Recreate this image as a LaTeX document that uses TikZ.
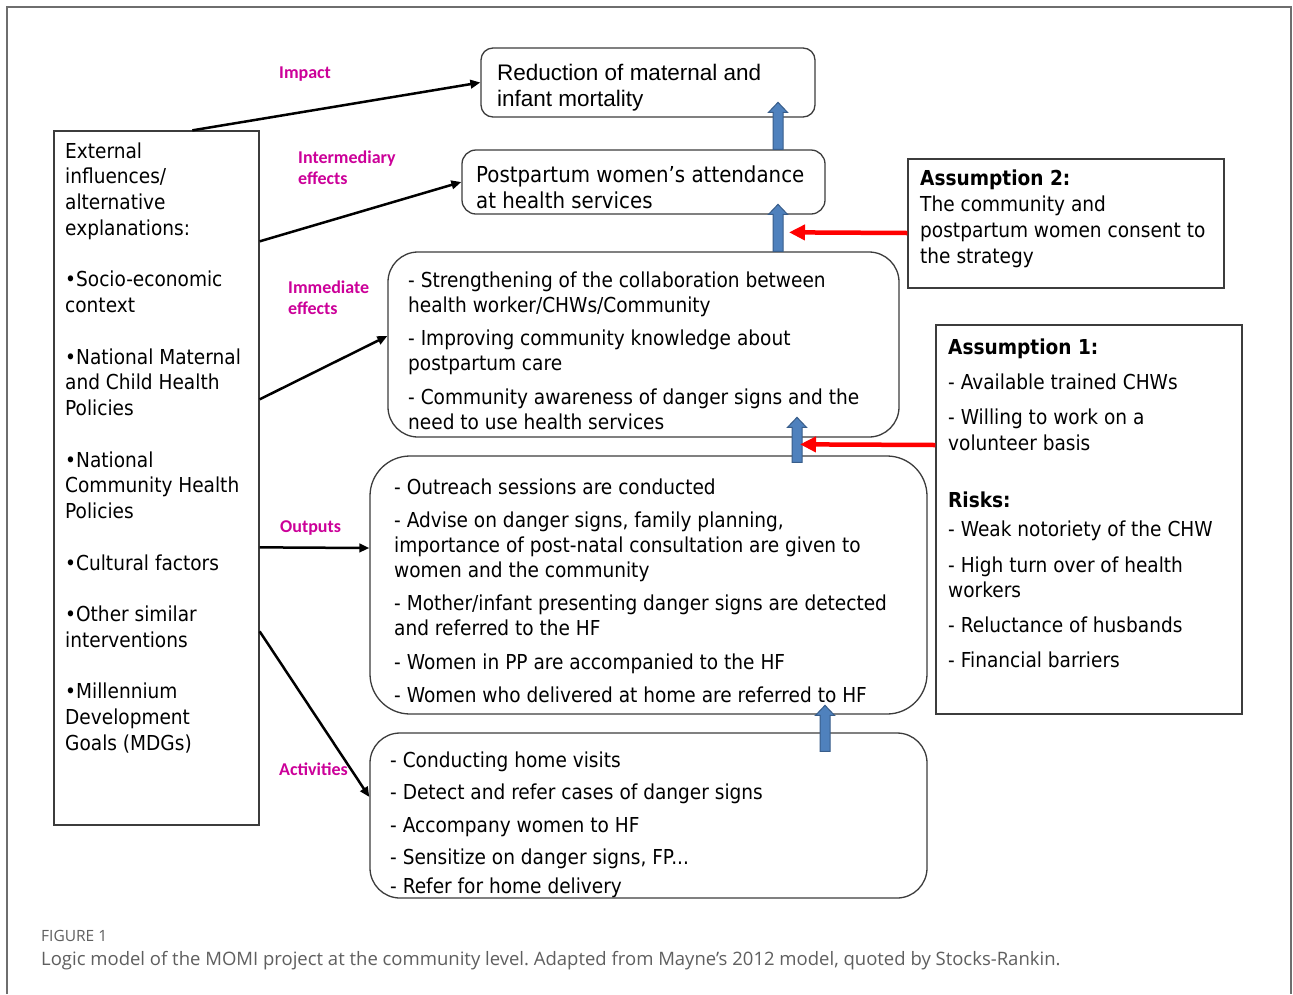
\documentclass[tikz,border=0pt]{standalone}
\usepackage{fontspec}
\usetikzlibrary{arrows.meta,calc}
\newfontfamily\tahfont{DejaVu Sans}[FakeStretch=0.9]
\newfontfamily\arifont{Liberation Sans}
\newfontfamily\calfont{Carlito}
\newfontfamily\capfont{Open Sans}
\definecolor{lblmag}{RGB}{204,0,153}
\definecolor{bluefill}{RGB}{79,129,189}
\definecolor{blueline}{RGB}{56,93,138}
\definecolor{boxline}{RGB}{60,60,60}
\definecolor{framegray}{RGB}{110,110,110}
\definecolor{capgray}{RGB}{95,95,95}
\definecolor{redarr}{RGB}{255,0,0}
\frenchspacing
\newcommand\barrow[4]{\filldraw[blockarrow] ([xshift={#2-5},yshift={-#3}]#1) -- ++(0,{-(#4-10)}) -- ++(-4.5,0) -- ++(9.5,-10) -- ++(9.5,10) -- ++(-4.5,0) -- ++(0,{#4-10}) -- cycle;}
\begin{document}
\begin{tikzpicture}[x=1pt,y=-1pt,
  rbox/.style={draw=boxline, line width=1.3pt, fill=white},
  sbox/.style={draw=boxline, line width=1.3pt, fill=white},
  txt/.style={anchor=north west, inner sep=0pt, align=left},
  tahA/.style={font={\tahfont\fontsize{20.6}{25.74}\selectfont}},
  tahB/.style={font={\tahfont\fontsize{20.6}{25}\selectfont}},
  lbl/.style={anchor=west, inner sep=0pt, align=left, text=lblmag, font={\calfont\bfseries\fontsize{18}{21}\selectfont}},
  blk/.style={line width=2.5pt, -{Triangle[length=10pt,width=8.5pt]}},
  redarrow/.style={draw=redarr, line width=4.5pt, -{Triangle[length=16pt,width=15pt]}},
  blockarrow/.style={fill=bluefill, draw=blueline, line width=1pt},
]
\useasboundingbox (0,0) rectangle (1293,994);
\fill[white] (0,0) rectangle (1293,994);
% outer frame
\draw[framegray, line width=1.3pt] (7,994) -- (7,7) -- (1291,7) -- (1291,994);

% boxes
\node[sbox, minimum width=205, minimum height=694] (ext) at (156.5,478) {};
\node[rbox, rounded corners=12, minimum width=334, minimum height=69] (top) at (648,82.5) {};
\node[rbox, rounded corners=14, minimum width=363, minimum height=64] (box2) at (643.5,182) {};
\node[rbox, rounded corners=30, minimum width=511, minimum height=185] (box3) at (643.5,344.5) {};
\node[rbox, rounded corners=40, minimum width=557, minimum height=258] (box4) at (648.5,585) {};
\node[rbox, rounded corners=30, minimum width=557, minimum height=165] (box5) at (648.5,815.5) {};
\node[sbox, minimum width=316, minimum height=129] (as2) at (1066,223.5) {};
\node[sbox, minimum width=306, minimum height=389] (as1) at (1089,519.5) {};

% texts
\node[txt, tahA] (exttxt) at (65,140) {\strut External\\influences/\\alternative\\explanations:\\[25.74pt]
•Socio-economic\\context\\[25.74pt]
•National Maternal\\and Child Health\\Policies\\[25.74pt]
•National\\Community Health\\Policies\\[25.74pt]
•Cultural factors\\[25.74pt]
•Other similar\\interventions\\[25.74pt]
•Millennium\\Development\\Goals (MDGs)};

\node[txt, font={\arifont\fontsize{22.5}{26}\selectfont}] (toptxt) at (497,61.8) {\strut Reduction of maternal and\\infant mortality};
\node[txt, font={\tahfont\fontsize{22}{26}\selectfont}] (box2txt) at (476,163.8) {\strut Postpartum women’s attendance\\at health services};

\node[txt, tahB] (box3txt) at (408,269.5) {\strut - Strengthening of the collaboration between\\health worker/CHWs/Community\\[8.5pt]
- Improving community knowledge about\\postpartum care\\[8.5pt]
- Community awareness of danger signs and the\\need to use health services};

\node[txt, tahB] (box4txt) at (394,476.5) {\strut - Outreach sessions are conducted\\[8pt]
- Advise on danger signs, family planning,\\importance of post-natal consultation are given to\\women and the community\\[8.5pt]
- Mother/infant presenting danger signs are detected\\and referred to the HF\\[8.5pt]
- Women in PP are accompanied to the HF\\[8pt]
- Women who delivered at home are referred to HF};

\node[txt, tahB] (box5txt) at (390,749.5) {\strut - Conducting home visits\\[7pt]
- Detect and refer cases of danger signs\\[8pt]
- Accompany women to HF\\[7pt]
- Sensitize on danger signs, FP...\\[4pt]
- Refer for home delivery};

\node[txt, font={\tahfont\fontsize{20.6}{26}\selectfont}] (as2txt) at (920,166.8) {\strut\textbf{Assumption 2:}\\The community and\\postpartum women consent to\\the strategy};

\node[txt, tahA] (as1txt) at (948,336) {\strut\textbf{Assumption 1:}\\[9.3pt]
- Available trained CHWs\\[9.3pt]
- Willing to work on a\\volunteer basis\\[31.3pt]
\textbf{Risks:}\\[3.3pt]
- Weak notoriety of the CHW\\[10.3pt]
- High turn over of health\\workers\\[9.3pt]
- Reluctance of husbands\\[9.3pt]
- Financial barriers};

% labels
\node[lbl] (limpact) at (279,74) {Impact};
\node[lbl] (linter) at (298,168) {Intermediary\\effects};
\node[lbl] (limm) at (288,298) {Immediate\\effects};
\node[lbl] (lout) at (280,528) {Outputs};
\node[lbl] (lact) at (279,769) {Activities};

% black arrows
\draw[blk] ([xshift=139]ext.north west) -- (top.west);
\draw[blk] ([yshift=-111]ext.north east) -- (box2.west);
\draw[blk] ([yshift=-269]ext.north east) -- ([yshift=8.5]box3.west);
\draw[blk] ([yshift=-417]ext.north east) -- ([yshift=37]box4.west);
\draw[blk] ([yshift=-501]ext.north east) -- ([yshift=18.5]box5.west);

% blue block arrows
\barrow{box2.north}{134.5}{0}{47}
\barrow{box3.north}{134.5}{0}{47}
\barrow{box4.north}{148.5}{7}{45}
\barrow{box5.north}{176.5}{19}{46}

% red arrows
\draw[redarrow] ([yshift=-9.5]as2.west) -- ([xshift=145.5,yshift=19]box3.north);
\draw[redarrow] ([yshift=74.5]as1.west) -- ([xshift=151.5,yshift=11]box4.north);

% caption
\node[anchor=base west, inner sep=0pt, text=capgray, font={\capfont\fontsize{15.5}{18}\selectfont}] (figlbl) at (41,941) {FIGURE 1};
\node[anchor=base west, inner sep=0pt, text=capgray, font={\capfont\fontsize{18.5}{21}\selectfont}] (caption) at (41,965) {Logic model of the MOMI project at the community level. Adapted from Mayne’s 2012 model, quoted by Stocks-Rankin.};
\end{tikzpicture}
\end{document}
